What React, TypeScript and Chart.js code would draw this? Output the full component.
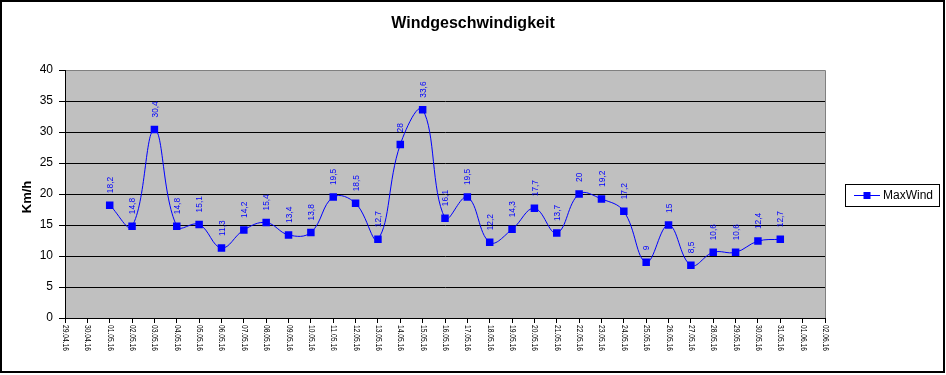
import React, { useEffect, useRef } from "react";
import { Chart, registerables } from "chart.js";

Chart.register(...registerables);

const dateLabels: string[] = [
  "29.04.16", "30.04.16", "01.05.16", "02.05.16", "03.05.16", "04.05.16", "05.05.16",
  "06.05.16", "07.05.16", "08.05.16", "09.05.16", "10.05.16", "11.05.16", "12.05.16",
  "13.05.16", "14.05.16", "15.05.16", "16.05.16", "17.05.16", "18.05.16", "19.05.16",
  "20.05.16", "21.05.16", "22.05.16", "23.05.16", "24.05.16", "25.05.16", "26.05.16",
  "27.05.16", "28.05.16", "29.05.16", "30.05.16", "31.05.16", "01.06.16", "02.06.16",
];

const maxWind: (number | null)[] = [
  null, null,
  18.2, 14.8, 30.4, 14.8, 15.1, 11.3, 14.2, 15.4, 13.4, 13.8,
  19.5, 18.5, 12.7, 28, 33.6, 16.1, 19.5, 12.2, 14.3, 17.7,
  13.7, 20, 19.2, 17.2, 9, 15, 8.5, 10.6, 10.6, 12.4, 12.7,
  null, null,
];

const yTicks: number[] = [0, 5, 10, 15, 20, 25, 30, 35, 40];

const titleText = "Windgeschwindigkeit";
const yTitle = "Km/h";
const seriesName = "MaxWind";

const FONT = "'Liberation Sans', Arial, sans-serif";
const BLUE = "#0000ff";

const customPlugin = {
  id: "excelLook",
  beforeDraw(chart: any) {
    const { ctx, chartArea: a } = chart;
    ctx.save();
    ctx.fillStyle = "#ffffff";
    ctx.fillRect(0, 0, chart.width, chart.height);
    ctx.fillStyle = "#c0c0c0";
    ctx.fillRect(a.left, a.top, a.right - a.left, a.bottom - a.top);
    ctx.strokeStyle = "#808080";
    ctx.lineWidth = 1;
    ctx.beginPath();
    ctx.moveTo(a.left, a.top + 0.5);
    ctx.lineTo(a.right + 0.5, a.top + 0.5);
    ctx.lineTo(a.right + 0.5, a.bottom);
    ctx.stroke();
    ctx.restore();
  },
  afterDraw(chart: any) {
    const { ctx, chartArea: a } = chart;
    const xs = chart.scales.x;
    const ys = chart.scales.y;
    ctx.save();

    // x tick labels, rotated clockwise
    ctx.fillStyle = "#000";
    ctx.font = `9px ${FONT}`;
    ctx.textAlign = "left";
    ctx.textBaseline = "middle";
    dateLabels.forEach((lab, i) => {
      const x = xs.getPixelForValue(i);
      ctx.save();
      ctx.translate(x + 0.5, a.bottom + 7);
      ctx.rotate(Math.PI / 2);
      ctx.fillText(lab, 0, 0, 26);
      ctx.restore();
    });

    // data labels
    ctx.fillStyle = BLUE;
    ctx.font = `9.5px ${FONT}`;
    ctx.textAlign = "left";
    ctx.textBaseline = "middle";
    maxWind.forEach((v, i) => {
      if (v === null) return;
      const x = xs.getPixelForValue(i);
      const y = ys.getPixelForValue(v);
      const txt = String(v).replace(".", ",");
      const w = ctx.measureText(txt).width * 0.88;
      ctx.save();
      ctx.translate(x + 0.5, y - 12);
      ctx.rotate(-Math.PI / 2);
      ctx.fillText(txt, 0, 0, w);
      ctx.restore();
    });

    // title
    ctx.fillStyle = "#000";
    ctx.font = `bold 16px ${FONT}`;
    ctx.textAlign = "center";
    ctx.textBaseline = "alphabetic";
    ctx.fillText(titleText, 473, 28);

    // y title
    ctx.save();
    ctx.font = `bold 13px ${FONT}`;
    ctx.translate(27, 197);
    ctx.rotate(-Math.PI / 2);
    ctx.textAlign = "center";
    ctx.textBaseline = "middle";
    ctx.fillText(yTitle, 0, 0);
    ctx.restore();

    // legend
    ctx.strokeStyle = "#000";
    ctx.lineWidth = 1;
    ctx.strokeRect(845.5, 184.5, 94, 22);
    ctx.strokeStyle = BLUE;
    ctx.beginPath();
    ctx.moveTo(854, 195.5);
    ctx.lineTo(880, 195.5);
    ctx.stroke();
    ctx.fillStyle = BLUE;
    ctx.fillRect(863.5, 192, 7, 7);
    ctx.fillStyle = "#000";
    ctx.font = `12px ${FONT}`;
    ctx.textAlign = "left";
    ctx.textBaseline = "middle";
    ctx.fillText(seriesName, 883, 196);

    // outer border
    ctx.strokeStyle = "#000";
    ctx.lineWidth = 2;
    ctx.strokeRect(1, 1, 943, 371);
    ctx.restore();
  },
};

export default function App() {
  const ref = useRef<HTMLCanvasElement | null>(null);

  useEffect(() => {
    if (!ref.current) return;
    const chart = new Chart(ref.current, {
      type: "line",
      data: {
        labels: dateLabels,
        datasets: [
          {
            label: seriesName,
            data: maxWind,
            borderColor: BLUE,
            backgroundColor: BLUE,
            borderWidth: 1,
            pointStyle: "rect",
            pointRadius: 5.3,
            pointBackgroundColor: BLUE,
            pointBorderColor: BLUE,
            pointBorderWidth: 0,
            tension: 0.4,
            fill: false,
          },
        ],
      },
      plugins: [customPlugin],
      options: {
        responsive: false,
        animation: false,
        devicePixelRatio: 1,
        layout: { padding: { left: 0, top: 70, right: 121, bottom: 0 } },
        plugins: {
          legend: { display: false },
          title: { display: false },
          tooltip: { enabled: false },
        },
        scales: {
          x: {
            type: "category",
            offset: false,
            afterFit: (s: any) => {
              s.height = 57;
            },
            grid: {
              display: true,
              drawOnChartArea: false,
              drawTicks: true,
              tickLength: 5,
              color: "#000",
            },
            border: { display: true, color: "#000", width: 1 },
            ticks: { display: false, autoSkip: false },
          },
          y: {
            min: 0,
            max: 40,
            afterFit: (s: any) => {
              s.width = 65;
            },
            afterBuildTicks: (s: any) => {
              s.ticks = yTicks.map((v) => ({ value: v }));
            },
            grid: {
              color: (c: any) => (c.tick && c.tick.value === 40 ? "#808080" : "#000"),
              tickColor: "#000",
              tickLength: 6,
            },
            border: { display: true, color: "#000", width: 1 },
            ticks: {
              color: "#000",
              padding: 6,
              font: { family: FONT, size: 12 },
            },
          },
        },
      },
    });
    return () => chart.destroy();
  }, []);

  return (
    <div style={{ position: "absolute", left: 0, top: 0, width: 946, height: 375 }}>
      <canvas ref={ref} width={946} height={375} style={{ display: "block" }} />
    </div>
  );
}
